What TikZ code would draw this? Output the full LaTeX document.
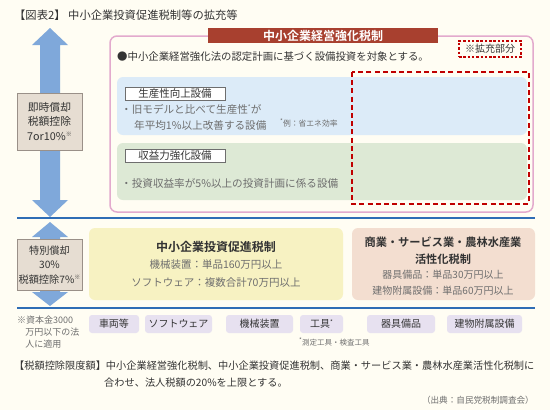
\documentclass[tikz,border=0pt]{standalone}
\usepackage{fontspec}
\setmainfont{Noto Sans CJK JP}[BoldFont={Noto Sans CJK JP Bold}]
\definecolor{bgc}{HTML}{FFFDF3}
\definecolor{tabred}{HTML}{A8402F}
\definecolor{pinkb}{HTML}{E3AACD}
\definecolor{redd}{HTML}{C00000}
\definecolor{blueb}{HTML}{DCEBF8}
\definecolor{greenb}{HTML}{DDE9D5}
\definecolor{bline}{HTML}{2F6DB5}
\definecolor{arrowc}{HTML}{7FA8DA}
\definecolor{beige}{HTML}{E6DDD2}
\definecolor{beigeb}{HTML}{9A9088}
\definecolor{yellowb}{HTML}{F7F2C2}
\definecolor{salmonb}{HTML}{F3DED0}
\definecolor{tagc}{HTML}{E7E1F0}
\definecolor{txt}{HTML}{333333}
\definecolor{gtxt}{HTML}{6E6E6E}
\newcommand{\fs}[1]{\fontsize{#1}{#1}\selectfont}
\newcommand{\supm}[1]{\raisebox{0.7ex}{\fs{6}#1}}
\tikzset{
  txtnode/.style={inner sep=0pt, text=txt, font=\fs{10}},
  gnode/.style={inner sep=0pt, text=gtxt, font=\fs{10}},
  sidebox/.style={draw=beigeb, fill=beige, line width=0.6pt},
  labbox/.style={draw=gtxt, fill=white, line width=0.6pt, minimum width=100pt, minimum height=13pt, inner sep=0pt, text=txt, font=\fs{10.5}},
  tagbox/.style={fill=tagc, rounded corners=3pt, minimum height=18pt, inner sep=0pt, text=txt, font=\fs{10}},
  arrowshape/.style={fill=arrowc, draw=none},
  hline/.style={draw=bline, line width=1.4pt},
}
\begin{document}
\begin{tikzpicture}[x=1pt,y=-1pt]
\useasboundingbox (0,0) rectangle (550,410);
\fill[bgc] (0,0) rectangle (550,410);
% title
\node[txtnode, anchor=west, font=\fs{11.3}] (title) at (14,15) {【図表2】 中小企業投資促進税制等の拡充等};
% big arrow
\fill[arrowshape] (50,28) -- (68,45) -- (60,45) -- (60,200) -- (68,200) -- (50,217) -- (32,200) -- (40,200) -- (40,45) -- (32,45) -- cycle;
% small double arrow
\fill[arrowshape] (50,222) -- (68,237) -- (60,237) -- (60,292) -- (68,292) -- (50,306) -- (32,292) -- (40,292) -- (40,237) -- (32,237) -- cycle;
% lines
\draw[hline] (17,218) -- (535,218);
\draw[hline] (17,308) -- (535,308);
% pink box
\draw[pinkb, line width=1.5pt, fill=bgc, rounded corners=7pt] (110,36) rectangle (533,212);
\node[fill=tabred, text=white, font=\bfseries\fs{12}, minimum width=230pt, minimum height=15pt, inner sep=0pt] (tab) at (323,35.5) {中小企業経営強化税制};
\node[txtnode, anchor=west, font=\fs{10.4}] (bullet) at (117,57) {●中小企業経営強化法の認定計画に基づく設備投資を対象とする。};
\node[draw=redd, line width=1.2pt, dash pattern=on 2.5pt off 1.8pt, minimum width=62pt, minimum height=16pt, inner sep=0pt, text=txt, font=\fs{10}] (expand) at (490,49) {※拡充部分};
% blue and green boxes
\fill[blueb, rounded corners=6pt] (117,77) rectangle (527,135);
\fill[greenb, rounded corners=6pt] (117,143) rectangle (527,200);
\node[labbox] (lab1) at (175,94) {生産性向上設備};
\node[gnode, anchor=west, font=\fs{10.6}] (t1a) at (121,109) {・旧モデルと比べて生産性\supm{*}が};
\node[gnode, anchor=west, font=\fs{10.6}] (t1b) at (134,125) {年平均1\%以上改善する設備};
\node[gnode, anchor=west, font=\fs{7.8}] (t1c) at (280,123) {\supm{*}例：省エネ効率};
\node[labbox] (lab2) at (175,156) {収益力強化設備};
\node[gnode, anchor=west, font=\fs{10.6}] (t2a) at (121,183) {・投資収益率が5\%以上の投資計画に係る設備};
% red dashed region
\draw[redd, line width=1.8pt, dash pattern=on 5pt off 3.2pt] (352,72) rectangle (529,204);
% side boxes
\node[sidebox, minimum width=65pt, minimum height=57pt, inner sep=0pt, align=center, text=txt, font=\fs{10.8}] (immed) at (49.5,121.5) {即時償却\\[4pt]税額控除\\[4pt]7or10\%\supm{※}};
\node[sidebox, minimum width=65pt, minimum height=51pt, inner sep=0pt, align=center, text=txt, font=\fs{10.2}] (special) at (49.5,265) {特別償却\\[4.4pt]30\%\\[4.4pt]税額控除7\%\supm{※}};
% yellow box
\fill[yellowb, rounded corners=6pt] (89,228) rectangle (343,300);
\node[txtnode, font=\bfseries\fs{12}] (ytitle) at (216,247) {中小企業投資促進税制};
\node[gnode, font=\fs{10.5}] (y1) at (216,265) {機械装置：単品160万円以上};
\node[gnode, font=\fs{10.5}] (y2) at (216,283) {ソフトウェア：複数合計70万円以上};
% salmon box
\fill[salmonb, rounded corners=6pt] (352,228) rectangle (535,300);
\node[txtnode, font=\bfseries\fs{11.2}] (s1) at (443,242) {商業・サービス業・農林水産業};
\node[txtnode, font=\bfseries\fs{11.2}] (s2) at (443,259) {活性化税制};
\node[gnode, font=\fs{10}] (s3) at (443,275) {器具備品：単品30万円以上};
\node[gnode, font=\fs{10}] (s4) at (443,291) {建物附属設備：単品60万円以上};
% footnote left
\node[gnode, anchor=north west, align=left, font=\fs{9}] (note) at (17,316) {※資本金3000\\[3pt]\hspace{0.9em}万円以下の法\\[3pt]\hspace{0.9em}人に適用};
% tags
\node[tagbox, minimum width=50pt] (tag1) at (114,324) {車両等};
\node[tagbox, minimum width=67pt] (tag2) at (178.5,324) {ソフトウェア};
\node[tagbox, minimum width=67pt] (tag3) at (259.5,324) {機械装置};
\node[tagbox, minimum width=43pt] (tag4) at (321.5,324) {工具\supm{*}};
\node[tagbox, minimum width=68pt] (tag5) at (401,324) {器具備品};
\node[tagbox, minimum width=75pt] (tag6) at (484.5,324) {建物附属設備};
\node[gnode, anchor=west, font=\fs{7.5}] (tagnote) at (299,342) {\supm{*}測定工具・検査工具};
% bottom text
\node[txtnode, anchor=west, font=\fs{10.2}] (lim1) at (14,366) {【税額控除限度額】中小企業経営強化税制、中小企業投資促進税制、商業・サービス業・農林水産業活性化税制に};
\node[txtnode, anchor=west, font=\fs{10.2}] (lim2) at (104,383) {合わせ、法人税額の20\%を上限とする。};
\node[gnode, anchor=east, font=\fs{8.6}] (src) at (534,400) {（出典：自民党税制調査会）};
\end{tikzpicture}
\end{document}
